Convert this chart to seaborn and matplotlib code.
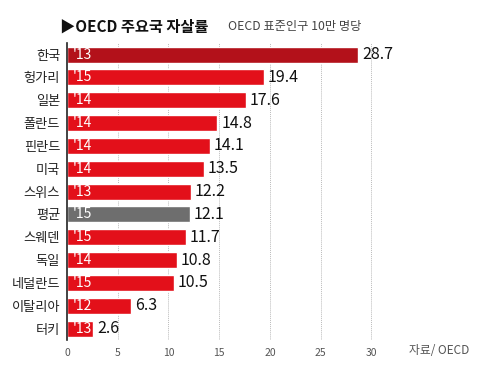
import matplotlib
matplotlib.use("Agg")
import matplotlib.pyplot as plt
import seaborn as sns
import pandas as pd

countries = ["한국", "헝가리", "일본", "폴란드", "핀란드", "미국", "스위스", "평균", "스웨덴", "독일", "네덜란드", "이탈리아", "터키"]
values = [28.7, 19.4, 17.6, 14.8, 14.1, 13.5, 12.2, 12.1, 11.7, 10.8, 10.5, 6.3, 2.6]
years = ["'13", "'15", "'14", "'14", "'14", "'14", "'13", "'15", "'15", "'14", "'15", "'12", "'13"]
xticks = [0, 5, 10, 15, 20, 25, 30]

sns.set_theme(style="white")
plt.rcParams['font.family'] = ['Noto Sans CJK KR', 'DejaVu Sans']

colors = []
for c in countries:
    if c == "한국":
        colors.append("#b3111a")
    elif c == "평균":
        colors.append("#6e6e6e")
    else:
        colors.append("#e3101a")

df = pd.DataFrame({"country": countries, "value": values})

fig = plt.figure(figsize=(4.93, 3.85), dpi=100)
ax = fig.add_axes([0.136, 0.117, 0.72, 0.771])
sns.barplot(data=df, y="country", x="value", hue="country", palette=colors,
            legend=False, width=0.7, ax=ax, saturation=1)

ax.set_xlim(0, 35)
ax.set_ylim(len(countries) - 0.5, -0.5)
ax.set_xticks(xticks)
ax.set_xticklabels([str(t) for t in xticks], fontsize=7.5, color="#555555")
ax.tick_params(axis="x", length=0, pad=6)
ax.tick_params(axis="y", length=0, pad=5, labelsize=9.5, labelcolor="#222222")
ax.set_xlabel("")
ax.set_ylabel("")
for t in xticks[1:]:
    ax.axvline(t, color="#bbbbbb", lw=0.7, ls=(0, (1, 1)), zorder=0)
for s in ["top", "right", "bottom"]:
    ax.spines[s].set_visible(False)
ax.spines["left"].set_color("#222222")
ax.spines["left"].set_linewidth(1.2)

for i, (v, y) in enumerate(zip(values, years)):
    ax.text(0.6, i, y, color="white", va="center", ha="left", fontsize=10)
    ax.text(v + 0.4, i, f"{v}", color="#111111", va="center", ha="left", fontsize=11.5)

fig.text(0.122, 0.93, "▶OECD 주요국 자살률", fontsize=11, fontweight="bold",
         color="#111111", va="center")
fig.text(0.462, 0.93, "OECD 표준인구 10만 명당", fontsize=8.8, color="#444444", va="center")
fig.text(0.83, 0.09, "자료/ OECD", fontsize=8.5, color="#555555", va="center", style="italic")

fig.savefig("out.png", dpi=100)
